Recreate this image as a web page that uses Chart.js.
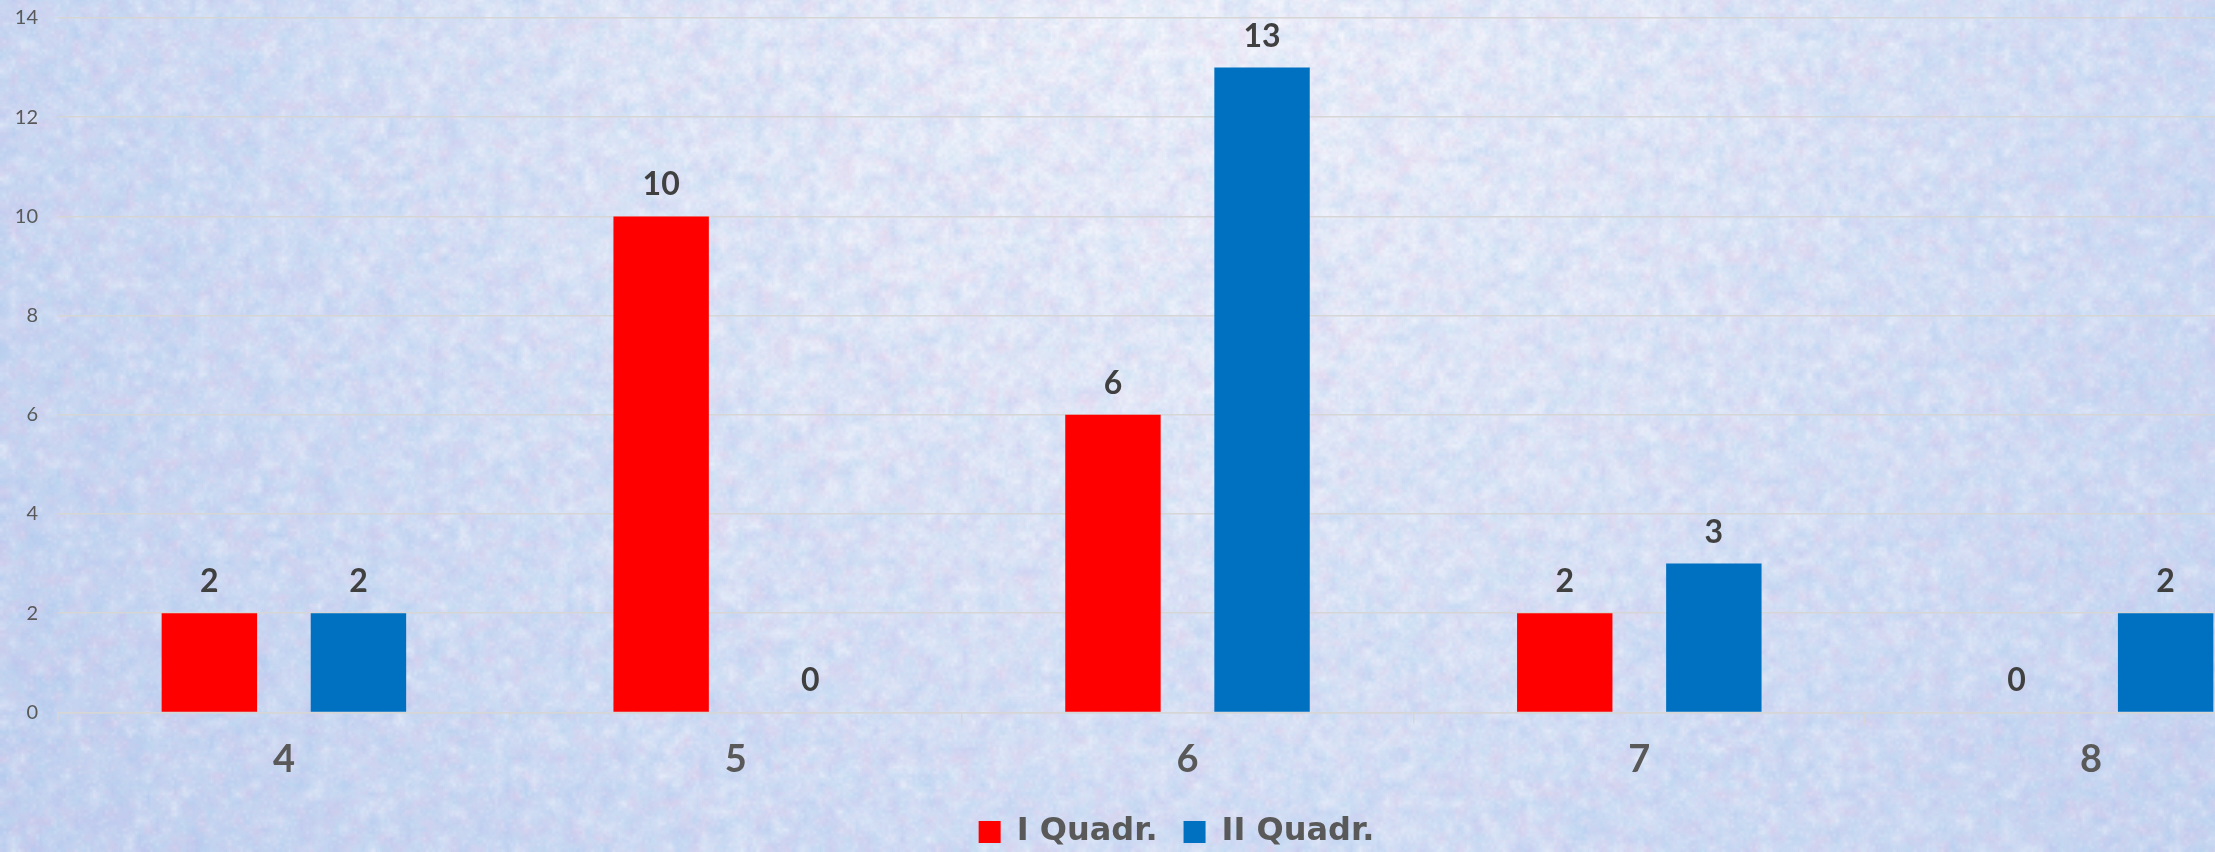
<!DOCTYPE html>
<html>
<head>
<meta charset="utf-8">
<script src="https://cdn.jsdelivr.net/npm/chart.js@4"></script>
<style>
  html, body { margin: 0; padding: 0; background: #cfdcf3; overflow: hidden; }
  #wrap { width: 2215px; height: 852px; overflow: hidden; position: relative; }
  #box { width: 2352px; height: 866px; position: absolute; left: 0; top: -14px; }
</style>
</head>
<body>
<div id="wrap"><div id="box"><canvas id="myChart"></canvas></div></div>
<script>
const categories = ['4', '5', '6', '7', '8'];
const quadr1 = [2, 10, 6, 2, 0];
const quadr2 = [2, 0, 13, 3, 2];
const yTicks = [0, 2, 4, 6, 8, 10, 12, 14];

// soft pastel paper texture (decoration only)
function makeTexture(w, h) {
  const c = document.createElement('canvas');
  c.width = w; c.height = h;
  const g = c.getContext('2d');
  const rg = g.createRadialGradient(1200, -40, 40, 1200, -40, 1450);
  rg.addColorStop(0, '#f3f5fc');
  rg.addColorStop(0.3, '#e6ecf9');
  rg.addColorStop(0.65, '#d3dff5');
  rg.addColorStop(1, '#c4d3f0');
  g.fillStyle = rg;
  g.fillRect(0, 0, w, h);
  let s = 987654;
  const rnd = () => { s = (s * 1103515245 + 12345) % 2147483648; return s / 2147483648; };
  const tints = [[226, 186, 226], [170, 214, 238], [180, 176, 232], [255, 255, 255], [150, 190, 235]];
  [[9, 0.3], [3, 0.16]].forEach(([k, a]) => {
    const sm = document.createElement('canvas');
    sm.width = Math.ceil(w / k); sm.height = Math.ceil(h / k);
    const sg = sm.getContext('2d');
    const img = sg.createImageData(sm.width, sm.height);
    for (let i = 0; i < sm.width * sm.height; i++) {
      const t = tints[Math.floor(rnd() * tints.length)];
      img.data[i * 4] = t[0];
      img.data[i * 4 + 1] = t[1];
      img.data[i * 4 + 2] = t[2];
      img.data[i * 4 + 3] = Math.floor(rnd() * 255 * a);
    }
    sg.putImageData(img, 0, 0);
    g.imageSmoothingEnabled = true;
    g.drawImage(sm, 0, 0, w, h);
  });
  return c;
}

const bgPlugin = {
  id: 'bg',
  beforeDraw(chart) {
    if (!chart._tex) chart._tex = makeTexture(chart.width, chart.height);
    chart.ctx.drawImage(chart._tex, 0, 0);
  }
};

// nudge the legend box: centred on the full (cropped) chart, a little higher
const legendShift = {
  id: 'legendShift',
  afterLayout(chart) {
    const lg = chart.legend;
    lg.left += 18; lg.right += 18;
    lg.top -= 7; lg.bottom -= 7;
  }
};

const valueLabels = {
  id: 'valueLabels',
  afterDatasetsDraw(chart) {
    const ctx = chart.ctx;
    ctx.save();
    ctx.font = 'bold 32px Lato';
    ctx.fillStyle = '#404040';
    ctx.textAlign = 'center';
    ctx.textBaseline = 'alphabetic';
    chart.data.datasets.forEach((ds, i) => {
      chart.getDatasetMeta(i).data.forEach((bar, j) => {
        ctx.fillText(ds.data[j], bar.x, bar.y - 21);
      });
    });
    ctx.restore();
  }
};

const ctx = document.getElementById('myChart').getContext('2d');
const myChart = new Chart(ctx, {
  type: 'bar',
  data: {
    labels: categories,
    datasets: [
      {
        label: 'I Quadr.',
        backgroundColor: '#FF0000',
        data: quadr1,
      },
      {
        label: 'II Quadr.',
        backgroundColor: '#0070C0',
        data: quadr2,
      },
    ],
  },
  plugins: [bgPlugin, legendShift, valueLabels],
  options: {
    responsive: true,
    maintainAspectRatio: false,
    animation: false,
    categoryPercentage: 0.66,
    barPercentage: 0.64,
    layout: {
      padding: { top: 0, right: 35, left: 0, bottom: -13 },
    },
    plugins: {
      tooltip: { enabled: false },
      legend: {
        display: true,
        position: 'bottom',
        labels: {
          boxWidth: 22,
          boxHeight: 22,
          color: '#595959',
          padding: 26,
          font: { family: 'DejaVu Sans', size: 32, weight: 'bold' },
        },
      },
    },
    scales: {
      x: {
        grid: {
          drawOnChartArea: false,
          drawTicks: true,
          tickLength: 11,
          color: '#d6d6d6',
          lineWidth: 1.5,
        },
        border: { color: '#d6d6d6', width: 1.5 },
        ticks: {
          color: '#595959',
          padding: 14,
          font: { family: 'Lato', size: 38, weight: 'bold' },
        },
      },
      y: {
        min: 0,
        max: 14,
        afterBuildTicks: (axis) => { axis.ticks = yTicks.map(v => ({ value: v })); },
        afterFit: (axis) => { axis.width = 58; },
        border: { display: false },
        grid: { color: '#d6d6d6', lineWidth: 1.5, drawTicks: false },
        ticks: {
          color: '#595959',
          padding: 20,
          font: { family: 'Lato', size: 20 },
        },
      },
    },
  },
});
</script>
</body>
</html>
